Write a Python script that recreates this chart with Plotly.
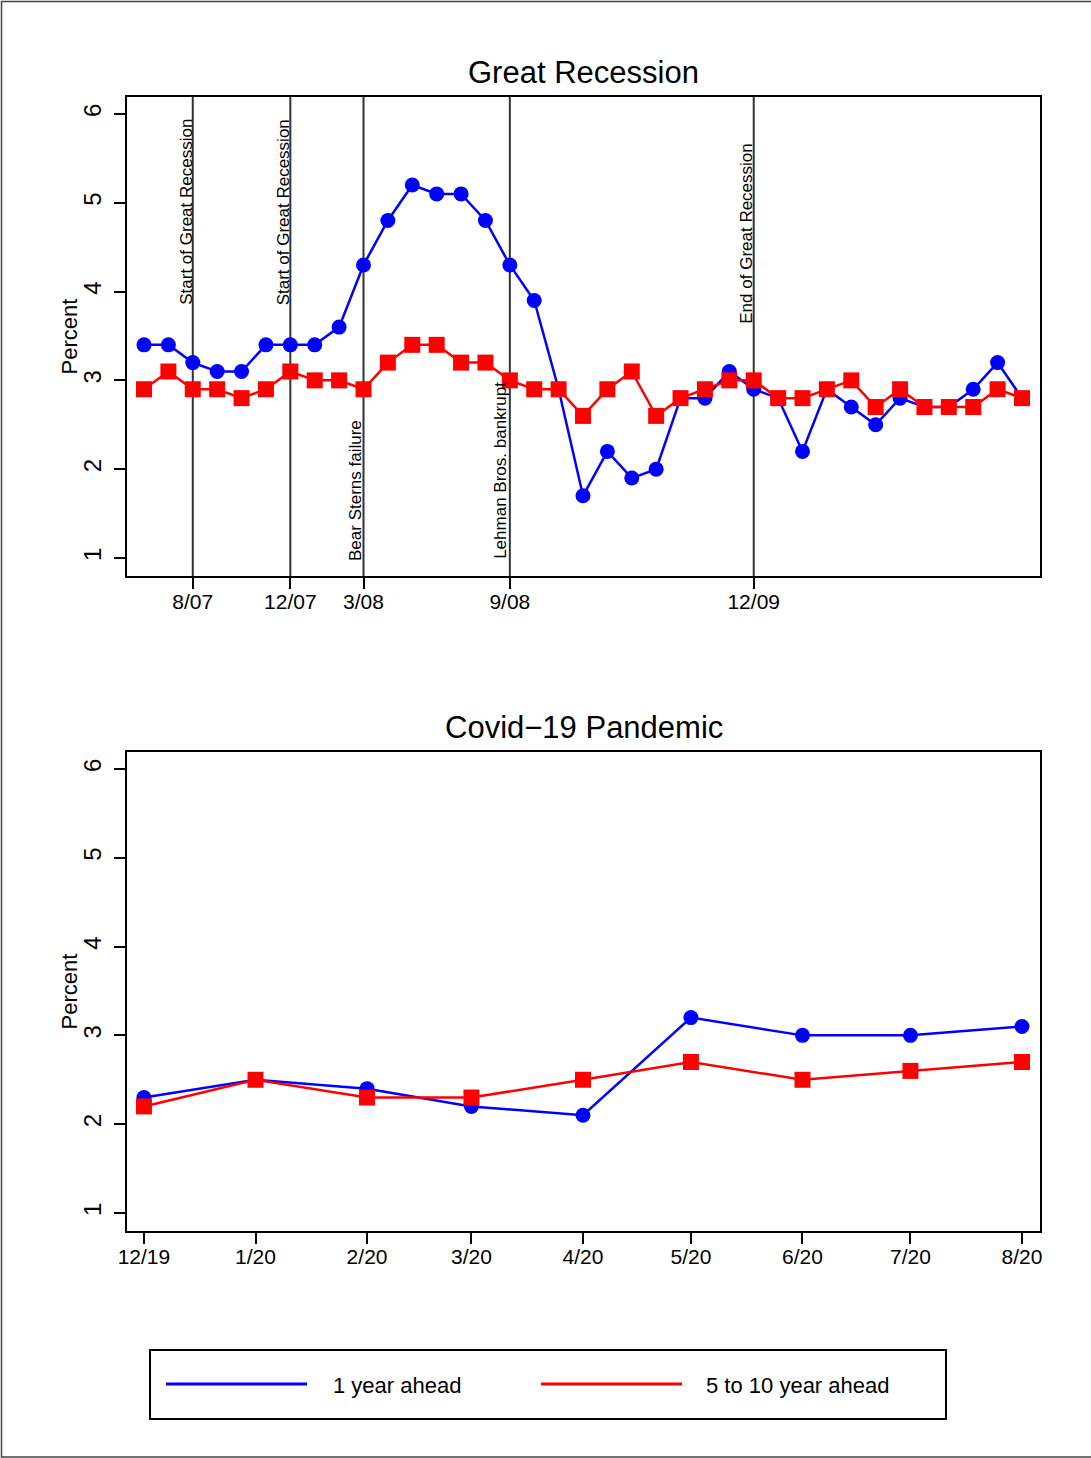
import plotly.graph_objects as go

W, H = 1091, 1458
FONT = "Liberation Sans, Arial, Helvetica, sans-serif"

# ---- Great Recession panel (survey rounds, indexed) ----
gr_one_year = [3.4, 3.4, 3.2, 3.1, 3.1, 3.4, 3.4, 3.4, 3.6, 4.3,
               4.8, 5.2, 5.1, 5.1, 4.8, 4.3, 3.9, 2.9, 1.7, 2.2,
               1.9, 2.0, 2.8, 2.8, 3.1, 2.9, 2.8, 2.2, 2.9, 2.7,
               2.5, 2.8, 2.7, 2.7, 2.9, 3.2, 2.8]
gr_five_ten = [2.9, 3.1, 2.9, 2.9, 2.8, 2.9, 3.1, 3.0, 3.0, 2.9,
               3.2, 3.4, 3.4, 3.2, 3.2, 3.0, 2.9, 2.9, 2.6, 2.9,
               3.1, 2.6, 2.8, 2.9, 3.0, 3.0, 2.8, 2.8, 2.9, 3.0,
               2.7, 2.9, 2.7, 2.7, 2.7, 2.9, 2.8]
gr_tick_pos = [2, 6, 9, 15, 25]
gr_tick_labels = ["8/07", "12/07", "3/08", "9/08", "12/09"]
gr_event_pos = [2, 6, 9, 15, 25]
gr_event_text = ["Start of Great Recession", "Start of Great Recession",
                 "Bear Sterns failure", "Lehman Bros. bankrupt",
                 "End of Great Recession"]

# ---- Covid-19 panel (monthly) ----
cv_dates = ["2019-12-01", "2020-01-01", "2020-02-01", "2020-03-01", "2020-04-01",
            "2020-05-01", "2020-06-01", "2020-07-01", "2020-08-01"]
cv_one_year = [2.3, 2.5, 2.4, 2.2, 2.1, 3.2, 3.0, 3.0, 3.1]
cv_five_ten = [2.2, 2.5, 2.3, 2.3, 2.5, 2.7, 2.5, 2.6, 2.7]
cv_tick_labels = ["12/19", "1/20", "2/20", "3/20", "4/20", "5/20", "6/20", "7/20", "8/20"]

series_names = ["1 year ahead", "5 to 10 year ahead"]
BLUE, RED = "#0000FF", "#FF0000"


def px_x(p):
    return p / W


def px_y(p):
    return 1 - p / H


fig = go.Figure()

# blue first so red squares sit on top
fig.add_trace(go.Scatter(x=list(range(len(gr_one_year))), y=gr_one_year, mode="lines+markers",
                         line=dict(color=BLUE, width=2.5), marker=dict(symbol="circle", size=15, color=BLUE),
                         xaxis="x", yaxis="y", showlegend=False, name=series_names[0]))
fig.add_trace(go.Scatter(x=list(range(len(gr_five_ten))), y=gr_five_ten, mode="lines+markers",
                         line=dict(color=RED, width=2.5), marker=dict(symbol="square", size=16, color=RED),
                         xaxis="x", yaxis="y", showlegend=False, name=series_names[1]))
fig.add_trace(go.Scatter(x=cv_dates, y=cv_one_year, mode="lines+markers",
                         line=dict(color=BLUE, width=2.5), marker=dict(symbol="circle", size=15, color=BLUE),
                         xaxis="x2", yaxis="y2", showlegend=False, name=series_names[0]))
fig.add_trace(go.Scatter(x=cv_dates, y=cv_five_ten, mode="lines+markers",
                         line=dict(color=RED, width=2.5), marker=dict(symbol="square", size=16, color=RED),
                         xaxis="x2", yaxis="y2", showlegend=False, name=series_names[1]))

axis_common = dict(showline=True, mirror=True, linecolor="black", linewidth=2,
                   ticks="outside", ticklen=11, tickwidth=1.5, tickcolor="black",
                   showgrid=False, zeroline=False, automargin=False)
yaxis_common = dict(axis_common, range=[0.797, 6.191], tickvals=[1, 2, 3, 4, 5, 6],
                    tickangle=-90, ticklabelstandoff=3,
                    tickfont=dict(size=24, family=FONT, color="black"))
xtick_font = dict(size=21, family=FONT, color="black")

fig.update_layout(
    width=W, height=H, autosize=False,
    margin=dict(l=0, r=0, t=0, b=0, pad=0, autoexpand=False),
    paper_bgcolor="white", plot_bgcolor="white",
    font=dict(family=FONT, color="black"),
    xaxis=dict(axis_common, domain=[px_x(127), px_x(1040)], range=[-0.697, 36.738],
               tickvals=gr_tick_pos, ticktext=gr_tick_labels, ticklabelstandoff=-5,
               tickfont=xtick_font, anchor="y"),
    yaxis=dict(yaxis_common, domain=[px_y(576), px_y(97)], anchor="x"),
    xaxis2=dict(axis_common, domain=[px_x(127), px_x(1040)], type="date",
                range=["2019-11-26 07:00", "2020-08-06 00:00"],
                tickvals=cv_dates, ticktext=cv_tick_labels, ticklabelstandoff=-5,
                tickfont=xtick_font, anchor="y2"),
    yaxis2=dict(yaxis_common, domain=[px_y(1231), px_y(752)], anchor="x2"),
)

shapes = []
annotations = []

# event markers on the Great Recession panel
label_style = [  # (yanchor, pixel y, xshift)
    ("top", 117, -7),
    ("top", 117, -7),
    ("bottom", 563, -8),
    ("bottom", 560.5, -10),
    ("top", 142, -8),
]
for pos, text, (ya, py, xs) in zip(gr_event_pos, gr_event_text, label_style):
    shapes.append(dict(type="line", xref="x", yref="y domain", x0=pos, x1=pos, y0=0, y1=1,
                       line=dict(color="#333333", width=2), layer="below"))
    annotations.append(dict(x=pos, xref="x", y=px_y(py), yref="paper", text=text,
                            textangle=-90, xanchor="center", yanchor=ya, xshift=xs,
                            showarrow=False, font=dict(size=17, family=FONT, color="black")))

# panel titles and y-axis titles
for title, top, bottom in [("Great Recession", 97, 576), ("Covid\u221219 Pandemic", 752, 1231)]:
    annotations.append(dict(x=px_x(583.5), y=px_y(top - 24.7), xref="paper", yref="paper",
                            text=title, showarrow=False, xanchor="center", yanchor="middle",
                            font=dict(size=31, family=FONT, color="black")))
    annotations.append(dict(x=px_x(69), y=px_y((top + bottom) / 2), xref="paper", yref="paper",
                            text="Percent", showarrow=False, textangle=-90,
                            xanchor="center", yanchor="middle",
                            font=dict(size=22, family=FONT, color="black")))

# legend box
shapes.append(dict(type="rect", xref="paper", yref="paper",
                   x0=px_x(150), x1=px_x(946), y0=px_y(1419), y1=px_y(1350),
                   line=dict(color="black", width=2)))
for name, color, x0, x1, tx in [(series_names[0], BLUE, 166, 307, 331),
                                (series_names[1], RED, 541, 682, 704)]:
    shapes.append(dict(type="line", xref="paper", yref="paper",
                       x0=px_x(x0), x1=px_x(x1), y0=px_y(1384), y1=px_y(1384),
                       line=dict(color=color, width=3)))
    annotations.append(dict(x=px_x(tx), y=px_y(1385), xref="paper", yref="paper",
                            text=name, showarrow=False, xanchor="left", yanchor="middle",
                            font=dict(size=22, family=FONT, color="black")))

# outer frame
shapes.append(dict(type="rect", xref="paper", yref="paper",
                   x0=px_x(1.5), x1=px_x(W + 5), y0=px_y(1457), y1=px_y(1.5),
                   line=dict(color="#444444", width=1.5)))

fig.update_layout(shapes=shapes, annotations=annotations)
fig.write_html("out.html")
